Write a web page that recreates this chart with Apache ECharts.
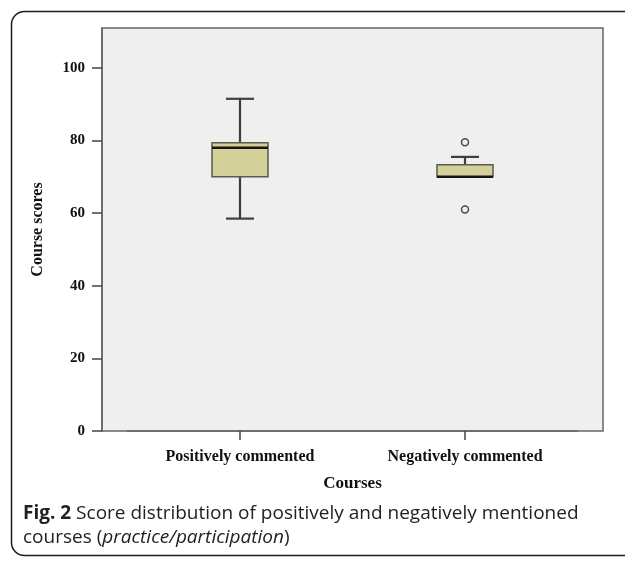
<!DOCTYPE html>
<html>
<head>
<meta charset="utf-8">
<script src="https://cdn.jsdelivr.net/npm/echarts@6/dist/echarts.min.js"></script>
<style>
html,body{margin:0;padding:0;background:#fff;}
#chart{width:625px;height:563px;}
</style>
</head>
<body>
<div id="chart"></div>
<script>
// ---- data ----
var categories = ['Positively commented', 'Negatively commented'];
// [low whisker, Q1, median, Q3, high whisker]
var boxPositive = [58.5, 70, 78, 79.4, 91.5];
var boxNegative = [70, 70, 70, 73.3, 75.5];
// outliers: [category index, value]
var outliers = [[1, 79.5], [1, 61]];
var yTicks = [0, 20, 40, 60, 80, 100];
var yMax = 111;

var boxes = [boxPositive, boxNegative];
var boxData = boxes.map(function (b, i) { return [i].concat(b); });

var serif = '"Liberation Serif", "Times New Roman", serif';
var chart = echarts.init(document.getElementById('chart'));

function renderBox(params, api) {
  var i = api.value(0);
  var low = api.coord([i, api.value(1)]);
  var q1 = api.coord([i, api.value(2)]);
  var med = api.coord([i, api.value(3)]);
  var q3 = api.coord([i, api.value(4)]);
  var high = api.coord([i, api.value(5)]);
  var cx = q1[0];
  var bw = 56, cw = 28;
  var wl = {stroke: '#3e3e3e', lineWidth: 2.2};
  var children = [];
  if (high[1] < q3[1]) {
    children.push({type: 'line', shape: {x1: cx, y1: q3[1], x2: cx, y2: high[1]}, style: wl});
    children.push({type: 'line', shape: {x1: cx - cw / 2, y1: high[1], x2: cx + cw / 2, y2: high[1]}, style: wl});
  }
  if (low[1] > q1[1]) {
    children.push({type: 'line', shape: {x1: cx, y1: q1[1], x2: cx, y2: low[1]}, style: wl});
    children.push({type: 'line', shape: {x1: cx - cw / 2, y1: low[1], x2: cx + cw / 2, y2: low[1]}, style: wl});
  }
  children.push({type: 'rect', shape: {x: cx - bw / 2, y: q3[1], width: bw, height: q1[1] - q3[1]},
    style: {fill: '#d4d09a', stroke: '#5a5a4e', lineWidth: 1.5}});
  children.push({type: 'line', shape: {x1: cx - bw / 2, y1: med[1], x2: cx + bw / 2, y2: med[1]},
    style: {stroke: '#151515', lineWidth: 2.5}});
  return {type: 'group', children: children};
}

chart.setOption({
  animation: false,
  backgroundColor: '#ffffff',
  grid: [
    {left: 102, top: 28, width: 501, height: 403, show: true, backgroundColor: '#efefef',
     borderColor: '#666', borderWidth: 1.5},
    {left: 127.5, top: 28, width: 450, height: 403}
  ],
  xAxis: [
    {type: 'value', gridIndex: 0, show: false, min: 0, max: 1},
    {type: 'category', gridIndex: 1, data: categories, boundaryGap: true,
     axisLine: {show: true, lineStyle: {color: '#666', width: 1.5}},
     axisTick: {show: true, alignWithLabel: true, length: 9, lineStyle: {color: '#444', width: 1.5}},
     axisLabel: {color: '#111', fontFamily: serif, fontWeight: 'bold', fontSize: 16, margin: 18},
     name: 'Courses', nameLocation: 'middle', nameGap: 44,
     nameTextStyle: {color: '#111', fontFamily: serif, fontWeight: 'bold', fontSize: 17}}
  ],
  yAxis: [
    {type: 'value', gridIndex: 0, min: 0, max: yMax,
     axisLine: {show: true, lineStyle: {color: '#666', width: 1.5}},
     axisTick: {show: true, length: 10, customValues: yTicks, lineStyle: {color: '#444', width: 1.5}},
     axisLabel: {customValues: yTicks, color: '#111', fontFamily: serif, fontWeight: 'bold', fontSize: 15, margin: 17},
     splitLine: {show: false},
     name: 'Course scores', nameLocation: 'middle', nameGap: 56, nameRotate: 90,
     nameTextStyle: {color: '#111', fontFamily: serif, fontWeight: 'bold', fontSize: 16}},
    {type: 'value', gridIndex: 1, min: 0, max: yMax, show: false, splitLine: {show: false}}
  ],
  series: [
    {type: 'custom', xAxisIndex: 1, yAxisIndex: 1, data: boxData, renderItem: renderBox,
     encode: {x: 0, y: [1, 2, 3, 4, 5]}},
    {type: 'scatter', xAxisIndex: 1, yAxisIndex: 1, data: outliers, symbol: 'circle', symbolSize: 7,
     itemStyle: {color: '#efefef', borderColor: '#222', borderWidth: 1.5}}
  ],
  graphic: [
    {type: 'rect', left: 9, top: 9, shape: {x: 0, y: 0, width: 640, height: 544, r: 13},
     style: {fill: 'none', stroke: '#1a1a1a', lineWidth: 1.5}, silent: true},
    {type: 'text', left: 23, top: 502, style: {
      text: '{b|Fig. 2} Score distribution of positively and negatively mentioned\ncourses ({i|practice/participation})',
      font: '19px "Open Sans"', fill: '#222', lineHeight: 24,
      rich: {
        b: {fontWeight: 'bold', fontFamily: 'Open Sans', fontSize: 19, fill: '#222'},
        i: {fontStyle: 'italic', fontFamily: 'Open Sans', fontSize: 19, fill: '#222'}
      }}}
  ]
});
</script>
</body>
</html>
